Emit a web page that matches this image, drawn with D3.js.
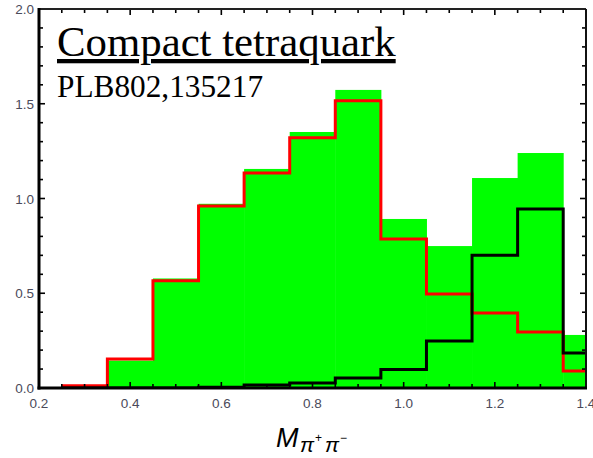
<!DOCTYPE html>
<html>
<head>
<meta charset="utf-8">
<script src="https://cdn.jsdelivr.net/npm/d3@7"></script>
<style>
  html, body { margin: 0; padding: 0; background: #fff; }
  svg { display: block; }
</style>
</head>
<body>
<script>
// Bin edges of the π+π− invariant-mass histograms (GeV)
const binEdges = [0.25, 0.35, 0.45, 0.55, 0.65, 0.75, 0.85, 0.95, 1.05, 1.15, 1.25, 1.35, 1.45];
// Filled (green) distribution
const greenValues = [0, 0.145, 0.578, 0.972, 1.156, 1.351, 1.573, 0.892, 0.749, 1.108, 1.24, 0.28];
// Red outline distribution
const redValues = [0.012, 0.153, 0.566, 0.96, 1.135, 1.32, 1.516, 0.786, 0.496, 0.396, 0.295, 0.09];
// Black outline distribution
const blackValues = [0, 0, 0, 0.004, 0.016, 0.027, 0.053, 0.098, 0.248, 0.70, 0.945, 0.185];
// Axis ticks
const xTicks = [0.2, 0.4, 0.6, 0.8, 1.0, 1.2, 1.4];
const yTicks = [0.0, 0.5, 1.0, 1.5, 2.0];
const titleText = "Compact tetraquark";
const refText = "PLB802,135217";

const W = 593, H = 458;
const plotL = 39, plotR = 586, plotT = 9, plotB = 388;

const svg = d3.select("body").append("svg").attr("width", W).attr("height", H);

const x = d3.scaleLinear().domain([0.2, 1.4]).range([plotL, plotR]);
const y = d3.scaleLinear().domain([0, 2]).range([plotB, plotT]);

svg.append("clipPath").attr("id", "plot")
  .append("rect").attr("x", plotL).attr("y", plotT).attr("width", plotR - plotL).attr("height", plotB - plotT);

const plot = svg.append("g").attr("clip-path", "url(#plot)");

// filled histogram
plot.selectAll("rect.bar").data(greenValues).join("rect")
  .attr("class", "bar")
  .attr("x", (d, i) => x(binEdges[i]))
  .attr("width", (d, i) => x(binEdges[i + 1]) - x(binEdges[i]) + 0.5)
  .attr("y", d => y(d))
  .attr("height", d => y(0) - y(d))
  .attr("fill", "#00ff00");

function stepPath(vals) {
  const pts = [];
  vals.forEach((v, i) => {
    pts.push([x(binEdges[i]), y(v)]);
    pts.push([x(binEdges[i + 1]), y(v)]);
  });
  return d3.line()(pts);
}

plot.append("path").attr("d", stepPath(redValues))
  .attr("fill", "none").attr("stroke", "#ff0000").attr("stroke-width", 3);
plot.append("path").attr("d", stepPath(blackValues))
  .attr("fill", "none").attr("stroke", "#000").attr("stroke-width", 3);

// frame ticks (inward) on all four sides
const minorX = d3.range(0.2, 1.4001, 0.05);
const minorY = d3.range(0, 2.0001, 0.1);
const isMajorX = v => Math.abs(v * 5 - Math.round(v * 5)) < 1e-6;
const isMajorY = v => Math.abs(v * 2 - Math.round(v * 2)) < 1e-6;
const ticks = svg.append("g").attr("stroke", "#000").attr("stroke-width", 1.6);
minorX.forEach(v => {
  const len = isMajorX(v) ? 6 : 4;
  ticks.append("line").attr("x1", x(v)).attr("x2", x(v)).attr("y1", plotB).attr("y2", plotB - len);
  ticks.append("line").attr("x1", x(v)).attr("x2", x(v)).attr("y1", plotT).attr("y2", plotT + len);
});
minorY.forEach(v => {
  const len = isMajorY(v) ? 6 : 4;
  ticks.append("line").attr("y1", y(v)).attr("y2", y(v)).attr("x1", plotL).attr("x2", plotL + len);
  ticks.append("line").attr("y1", y(v)).attr("y2", y(v)).attr("x1", plotR).attr("x2", plotR - len);
});

// frame
svg.append("line").attr("x1", plotL - 1).attr("x2", plotR).attr("y1", plotT).attr("y2", plotT)
  .attr("stroke", "#222").attr("stroke-width", 2);
svg.append("line").attr("x1", plotR).attr("x2", plotR).attr("y1", plotT).attr("y2", plotB)
  .attr("stroke", "#111").attr("stroke-width", 2);
svg.append("line").attr("x1", plotL).attr("x2", plotL).attr("y1", plotT - 1).attr("y2", plotB + 1.5)
  .attr("stroke", "#000").attr("stroke-width", 3);
svg.append("line").attr("x1", plotL - 1.5).attr("x2", plotR + 1).attr("y1", plotB).attr("y2", plotB)
  .attr("stroke", "#000").attr("stroke-width", 3);

// tick labels
const labelFont = "'Liberation Sans', Arial, sans-serif";
svg.append("g").selectAll("text").data(xTicks).join("text")
  .attr("x", d => x(d)).attr("y", 407.5)
  .attr("text-anchor", "middle")
  .attr("font-family", labelFont).attr("font-size", 13.5).attr("fill", "#4a4a5a")
  .text(d => d.toFixed(1));
svg.append("g").selectAll("text").data(yTicks).join("text")
  .attr("x", 34).attr("y", d => y(d) + 5)
  .attr("text-anchor", "end")
  .attr("font-family", labelFont).attr("font-size", 13.5).attr("fill", "#4a4a5a")
  .text(d => d.toFixed(1));

// annotations
const serif = "'Liberation Serif', 'Times New Roman', serif";
svg.append("text").attr("x", 57).attr("y", 56)
  .attr("font-family", serif).attr("font-size", 42.8).attr("fill", "#000")
  .attr("text-decoration", "underline")
  .text(titleText);
svg.append("text").attr("x", 57).attr("y", 97)
  .attr("font-family", serif).attr("font-size", 31.3).attr("fill", "#000")
  .text(refText);

// x-axis label: M_{π+ π−}
const xl = svg.append("text").attr("font-family", labelFont).attr("font-style", "italic").attr("fill", "#000");
xl.append("tspan").attr("x", 276).attr("y", 447).attr("font-size", 27).text("M");
xl.append("tspan").attr("x", 300).attr("y", 452).attr("font-size", 21).text("π");
xl.append("tspan").attr("x", 315).attr("y", 442).attr("font-size", 12).attr("font-style", "normal").text("+");
xl.append("tspan").attr("x", 325).attr("y", 452).attr("font-size", 21).text("π");
xl.append("tspan").attr("x", 340).attr("y", 442).attr("font-size", 12).attr("font-style", "normal").text("−");
</script>
</body>
</html>
